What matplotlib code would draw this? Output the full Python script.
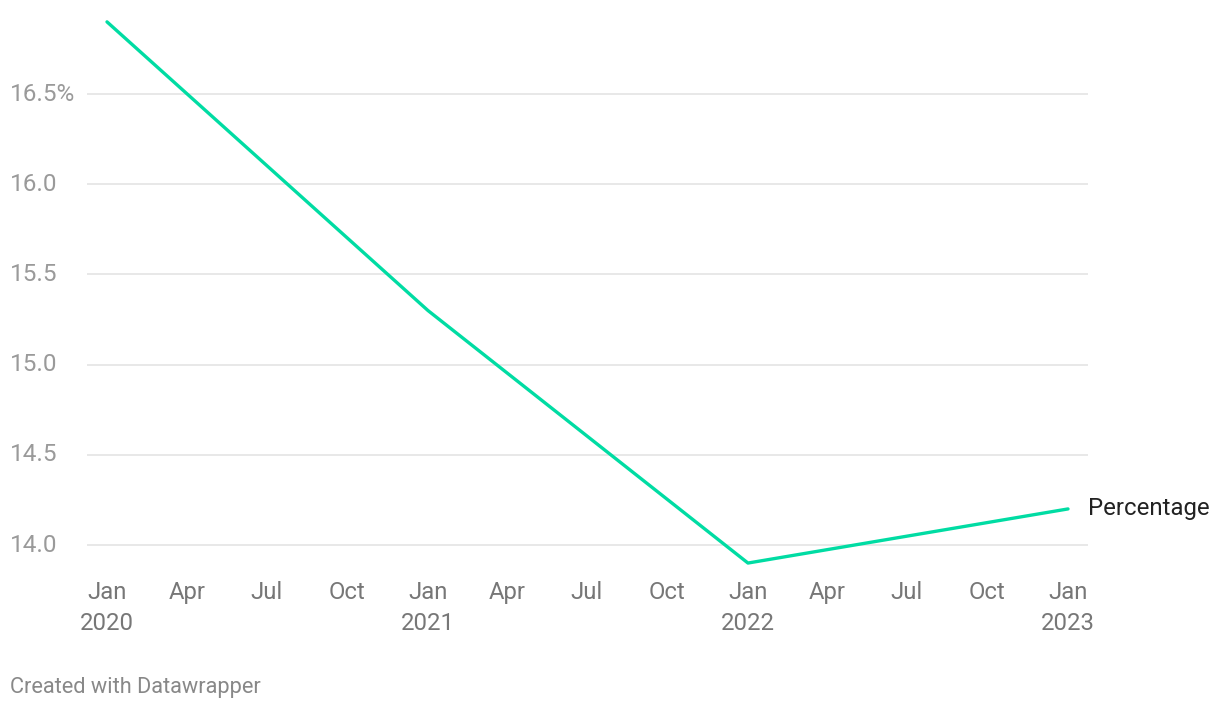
import datetime as dt
import matplotlib
matplotlib.use("Agg")
import matplotlib.pyplot as plt
import matplotlib.dates as mdates
from matplotlib.transforms import blended_transform_factory

# data
dates = ["2020-01-01", "2021-01-01", "2022-01-01", "2023-01-01"]
percentage = [16.9, 15.3, 13.9, 14.2]
series_label = "Percentage"

y_ticks = [14.0, 14.5, 15.0, 15.5, 16.0, 16.5]
y_tick_labels = ["14.0", "14.5", "15.0", "15.5", "16.0", "16.5%"]

tick_months = ["Jan", "Apr", "Jul", "Oct"]
tick_years = [2020, 2021, 2022, 2023]

plt.rcParams["font.family"] = ["Roboto", "DejaVu Sans"]

W, H = 1220, 710
fig = plt.figure(figsize=(W / 100, H / 100), dpi=100)
left, right, top, bottom = 87, 1088, 15, 580
ax = fig.add_axes([left / W, 1 - bottom / H, (right - left) / W, (bottom - top) / H])

x = [mdates.date2num(dt.date.fromisoformat(d)) for d in dates]
ax.plot(x, percentage, color="#00dca3", lw=2.4, solid_capstyle="round", zorder=3)

# x ticks every three months
tick_pos, tick_lab = [], []
for y in tick_years:
    for m_i, m in enumerate(tick_months):
        if y == tick_years[-1] and m_i > 0:
            break
        tick_pos.append(mdates.date2num(dt.date(y, 1 + 3 * m_i, 1)))
        tick_lab.append(f"{m}\n{y}" if m_i == 0 else m)
ax.set_xticks(tick_pos)
ax.set_xticklabels(tick_lab, fontsize=17.2, color="#777777", linespacing=1.42, va="top")
ax.tick_params(axis="x", length=0, pad=1)

pad_days = 22.8
ax.set_xlim(x[0] - pad_days, x[-1] + pad_days)
ax.set_ylim(13.806, 16.938)

ax.set_yticks(y_ticks)
ax.tick_params(axis="y", length=0, labelleft=False)
label_tr = blended_transform_factory(fig.transFigure, ax.transData)
for v, lab in zip(y_ticks, y_tick_labels):
    ax.axhline(v, color="#e1e1e1", lw=1.1, zorder=1)
    ax.text(10 / W, v, lab, transform=label_tr,
            ha="left", va="center", fontsize=17.5, color="#9a9a9a")

for s in ax.spines.values():
    s.set_visible(False)

ax.annotate(series_label, (x[-1], percentage[-1]), xytext=(14.4, 0), textcoords="offset points",
            ha="left", va="center", fontsize=17.3, color="#222222", annotation_clip=False)

fig.text(10 / W, 1 - 687 / H, "Created with Datawrapper", ha="left", va="center",
         fontsize=15.7, color="#888888")

fig.savefig("out.png", dpi=100)
